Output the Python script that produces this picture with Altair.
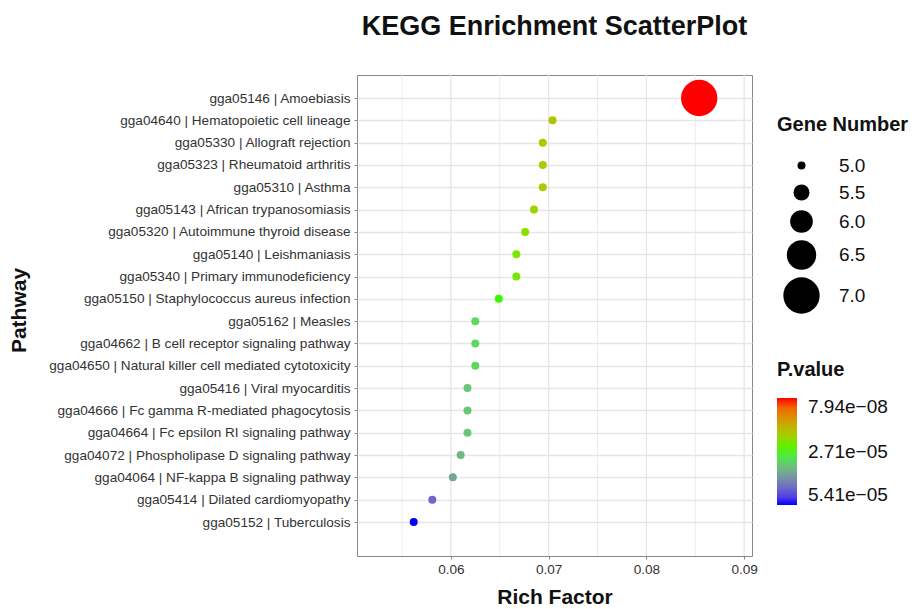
import altair as alt
import pandas as pd

pathways = [
    "gga05146 | Amoebiasis",
    "gga04640 | Hematopoietic cell lineage",
    "gga05330 | Allograft rejection",
    "gga05323 | Rheumatoid arthritis",
    "gga05310 | Asthma",
    "gga05143 | African trypanosomiasis",
    "gga05320 | Autoimmune thyroid disease",
    "gga05140 | Leishmaniasis",
    "gga05340 | Primary immunodeficiency",
    "gga05150 | Staphylococcus aureus infection",
    "gga05162 | Measles",
    "gga04662 | B cell receptor signaling pathway",
    "gga04650 | Natural killer cell mediated cytotoxicity",
    "gga05416 | Viral myocarditis",
    "gga04666 | Fc gamma R-mediated phagocytosis",
    "gga04664 | Fc epsilon RI signaling pathway",
    "gga04072 | Phospholipase D signaling pathway",
    "gga04064 | NF-kappa B signaling pathway",
    "gga05414 | Dilated cardiomyopathy",
    "gga05152 | Tuberculosis",
]
rich_factor = [0.0854, 0.0704, 0.0694, 0.0694, 0.0694, 0.0685, 0.0676, 0.0667, 0.0667, 0.0649,
               0.0625, 0.0625, 0.0625, 0.0617, 0.0617, 0.0617, 0.0610, 0.0602, 0.0581, 0.0562]
gene_number = [7, 5, 5, 5, 5, 5, 5, 5, 5, 5, 5, 5, 5, 5, 5, 5, 5, 5, 5, 5]
p_value = [7.94e-08, 1.75e-05, 1.88e-05, 1.88e-05, 1.88e-05, 2.01e-05, 2.15e-05, 2.30e-05, 2.30e-05, 2.63e-05,
           3.18e-05, 3.18e-05, 3.18e-05, 3.38e-05, 3.38e-05, 3.38e-05, 3.59e-05, 3.82e-05, 4.56e-05, 5.41e-05]

size_breaks = [5.0, 5.5, 6.0, 6.5, 7.0]
p_breaks = [7.94e-08, 2.709e-05, 5.41e-05]
x_ticks = [0.055, 0.06, 0.065, 0.07, 0.075, 0.08, 0.085, 0.09]

df = pd.DataFrame({
    "Pathway": pathways,
    "RichFactor": rich_factor,
    "GeneNumber": gene_number,
    "PValue": p_value,
})
grid_df = pd.DataFrame({"tick": x_ticks})

FONT = "Liberation Sans"
minor_test = "abs(datum.value*100 - round(datum.value*100)) > 0.01"
x_scale = alt.Scale(domain=[0.0504, 0.0908], nice=False, zero=False)

x_axis = alt.Axis(
    values=x_ticks,
    labelExpr="abs(datum.value*100 - round(datum.value*100)) < 0.01 ? format(datum.value, '.2f') : ''",
    domain=False,
    grid=False,
    tickSize=3,
    tickColor="#888888",
    tickOpacity={"condition": {"test": minor_test, "value": 0}, "value": 1},
    labelFontSize=13.6,
    labelColor="#333333",
    labelPadding=3,
    titleFontSize=21,
    titleFontWeight="bold",
    titleColor="#111111",
    titleBaseline="alphabetic",
    titleY=47,
)

grid = alt.Chart(grid_df).mark_rule(color="#e6e6e6").encode(
    x=alt.X("tick:Q", title="Rich Factor", scale=x_scale, axis=x_axis),
    y=alt.value(0),
    y2=alt.value(481),
    strokeWidth=alt.condition(
        "abs(datum.tick*100 - round(datum.tick*100)) > 0.01", alt.value(0.8), alt.value(1.3)
    ),
)

points = alt.Chart(df).transform_calculate(
    NegP="-datum.PValue"
).mark_circle(opacity=1, strokeWidth=0).encode(
    x=alt.X("RichFactor:Q", title="Rich Factor", scale=x_scale, axis=x_axis),
    y=alt.Y(
        "Pathway:N",
        title="Pathway",
        sort=pathways,
        scale=alt.Scale(type="point", padding=0, range=[23, 447]),
        axis=alt.Axis(
            domain=False,
            grid=True,
            tickSize=3,
            tickColor="#888888",
            gridColor="#e6e6e6",
            gridWidth=1.3,
            labelFontSize=13.6,
            labelColor="#333333",
            labelPadding=4,
            labelLimit=0,
            titleFontSize=21,
            titleFontWeight="bold",
            titleColor="#111111",
            titleBaseline="alphabetic",
            titleX=-332,
        ),
    ),
    size=alt.Size(
        "GeneNumber:Q",
        title="Gene Number",
        scale=alt.Scale(type="pow", exponent=4.5, domain=[5, 7], range=[64, 1320], zero=False),
        legend=alt.Legend(
            values=size_breaks,
            format=".1f",
            orient="none",
            legendX=420,
            legendY=40,
            symbolFillColor="black",
            symbolStrokeWidth=0,
            symbolOpacity=1,
            symbolOffset=6,
            labelOffset=19,
            rowPadding=7,
            titlePadding=21,
        ),
    ),
    color=alt.Color(
        "NegP:Q",
        title="P.value",
        scale=alt.Scale(domain=[-p_breaks[2], -p_breaks[1], -p_breaks[0]],
                        range=["#0000ff", "#00ff00", "#ff0000"], interpolate="lab"),
        legend=alt.Legend(
            values=[-p_breaks[2], -p_breaks[1], -p_breaks[0]],
            labelExpr="replace(format(-datum.value, '.2e'), 'e-', 'e\u22120')",
            orient="none",
            legendX=420,
            legendY=285,
            gradientLength=107,
            gradientThickness=20,
            gradientStrokeWidth=0,
            labelOffset=11,
            labelBaseline="middle",
            titlePadding=18,
        ),
    ),
)

chart = alt.layer(grid, points).properties(
    width=395,
    height=481,
    title=alt.TitleParams(
        "KEGG Enrichment ScatterPlot",
        fontSize=27,
        fontWeight="bold",
        font=FONT,
        color="#111111",
        anchor="middle",
        offset=33,
    ),
    autosize=alt.AutoSizeParams(type="none"),
    padding={"left": 349, "top": 67, "right": 157, "bottom": 52},
).configure(
    font=FONT,
).configure_view(
    stroke="#888888",
    strokeWidth=1,
).configure_legend(
    titleFontSize=20,
    titleFontWeight="bold",
    titleColor="#111111",
    labelFontSize=19,
    labelColor="#111111",
    titleFont=FONT,
    labelFont=FONT,
)

chart.save("out.html", embed_options={"renderer": "svg", "actions": False})
